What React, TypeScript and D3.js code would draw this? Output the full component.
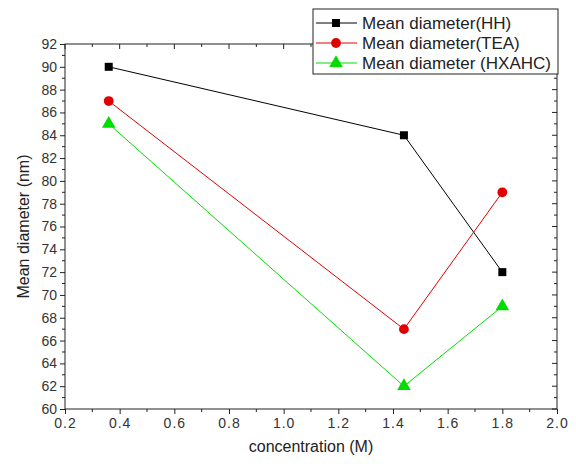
import React, { useRef, useEffect } from 'react';
import * as d3 from 'd3';

// concentration (M)
const concentrations = [0.36, 1.44, 1.8];
// mean diameter (nm)
const hhValues = [90, 84, 72];
const teaValues = [87, 67, 79];
const hxahcValues = [85, 62, 69];

const seriesNames = ['Mean diameter(HH)', 'Mean diameter(TEA)', 'Mean diameter (HXAHC)'];
const xTicks = [0.2, 0.4, 0.6, 0.8, 1.0, 1.2, 1.4, 1.6, 1.8, 2.0];
const yTicks = [60, 62, 64, 66, 68, 70, 72, 74, 76, 78, 80, 82, 84, 86, 88, 90, 92];

const App = () => {
  const svgRef = useRef<SVGSVGElement>(null);

  useEffect(() => {
    if (!svgRef.current) return;
    const svg = d3.select(svgRef.current);
    svg.selectAll('*').remove();

    const left = 65, right = 557, top = 44, bottom = 409;
    const font = 'Liberation Sans, Arial, sans-serif';

    const x = d3.scaleLinear().domain([0.2, 2.0]).range([left, right]);
    const y = d3.scaleLinear().domain([60, 92]).range([bottom, top]);

    const xMinor = d3.range(0.3, 2.0, 0.2);
    const yMinor = d3.range(61, 92, 2);

    // frame
    svg.append('rect')
      .attr('x', left).attr('y', top)
      .attr('width', right - left).attr('height', bottom - top)
      .attr('fill', 'none').attr('stroke', '#222').attr('stroke-width', 1);

    // bottom axis
    const bottomAxis = svg.append('g').attr('transform', `translate(0,${bottom})`)
      .call(d3.axisBottom(x).tickValues(xTicks).tickSize(5).tickPadding(4).tickFormat(d3.format('.1f')));
    bottomAxis.select('.domain').remove();
    bottomAxis.selectAll('line').attr('stroke', '#222');
    bottomAxis.selectAll('text').attr('font-family', font).attr('font-size', 14)
      .attr('letter-spacing', 1).attr('fill', '#333');
    svg.append('g').selectAll('line').data(xMinor).join('line')
      .attr('x1', d => x(d)).attr('x2', d => x(d))
      .attr('y1', bottom).attr('y2', bottom + 3).attr('stroke', '#222');

    // top ticks (inward)
    svg.append('g').selectAll('line').data(xTicks).join('line')
      .attr('x1', d => x(d)).attr('x2', d => x(d))
      .attr('y1', top).attr('y2', top + 5).attr('stroke', '#222');
    svg.append('g').selectAll('line').data(xMinor).join('line')
      .attr('x1', d => x(d)).attr('x2', d => x(d))
      .attr('y1', top).attr('y2', top + 3).attr('stroke', '#222');

    // left axis
    const leftAxis = svg.append('g').attr('transform', `translate(${left},0)`)
      .call(d3.axisLeft(y).tickValues(yTicks).tickSize(5).tickPadding(3));
    leftAxis.select('.domain').remove();
    leftAxis.selectAll('line').attr('stroke', '#222');
    leftAxis.selectAll('text').attr('font-family', font).attr('font-size', 14).attr('fill', '#333');
    svg.append('g').selectAll('line').data(yMinor).join('line')
      .attr('x1', left - 3).attr('x2', left)
      .attr('y1', d => y(d)).attr('y2', d => y(d)).attr('stroke', '#222');

    // right ticks (inward)
    svg.append('g').selectAll('line').data(yTicks).join('line')
      .attr('x1', right - 5).attr('x2', right)
      .attr('y1', d => y(d)).attr('y2', d => y(d)).attr('stroke', '#222');
    svg.append('g').selectAll('line').data(yMinor).join('line')
      .attr('x1', right - 3).attr('x2', right)
      .attr('y1', d => y(d)).attr('y2', d => y(d)).attr('stroke', '#222');

    // axis titles
    svg.append('text')
      .attr('x', (left + right) / 2).attr('y', 452)
      .attr('text-anchor', 'middle').attr('font-family', font).attr('font-size', 16).attr('fill', '#222')
      .text('concentration (M)');
    svg.append('text')
      .attr('transform', `translate(29,${(top + bottom) / 2}) rotate(-90)`)
      .attr('text-anchor', 'middle').attr('font-family', font).attr('font-size', 16).attr('fill', '#222')
      .text('Mean diameter (nm)');

    const series = [
      { name: seriesNames[0], values: hhValues, color: '#000000', symbol: d3.symbolSquare, size: 64 },
      { name: seriesNames[1], values: teaValues, color: '#e00000', symbol: d3.symbolCircle, size: 75 },
      { name: seriesNames[2], values: hxahcValues, color: '#00dd00', symbol: d3.symbolTriangle, size: 80 },
    ];

    const line = d3.line<number>()
      .x((_, i) => x(concentrations[i]))
      .y(d => y(d));

    series.forEach(s => {
      svg.append('path')
        .attr('d', line(s.values))
        .attr('fill', 'none').attr('stroke', s.color).attr('stroke-width', 1);
      svg.append('g').selectAll('path').data(s.values).join('path')
        .attr('transform', (d, i) => `translate(${x(concentrations[i])},${y(d)})`)
        .attr('d', d3.symbol(s.symbol, s.size)())
        .attr('fill', s.color);
    });

    // legend
    const lg = svg.append('g');
    lg.append('rect')
      .attr('x', 313).attr('y', 9).attr('width', 245).attr('height', 65)
      .attr('fill', '#fff').attr('stroke', '#222').attr('stroke-width', 1);
    series.forEach((s, i) => {
      const ly = 23 + i * 20;
      lg.append('line')
        .attr('x1', 316).attr('x2', 357).attr('y1', ly).attr('y2', ly)
        .attr('stroke', s.color).attr('stroke-width', 1);
      lg.append('path')
        .attr('transform', `translate(336,${ly})`)
        .attr('d', d3.symbol(s.symbol, s.size)())
        .attr('fill', s.color);
      lg.append('text')
        .attr('x', 362).attr('y', ly + 6)
        .attr('font-family', font).attr('font-size', 17).attr('fill', '#222')
        .text(s.name);
    });
  }, []);

  return (
    <svg ref={svgRef} width={576} height={464}
      style={{ position: 'absolute', left: 0, top: 0, background: '#fff' }} />
  );
};

export default App;
